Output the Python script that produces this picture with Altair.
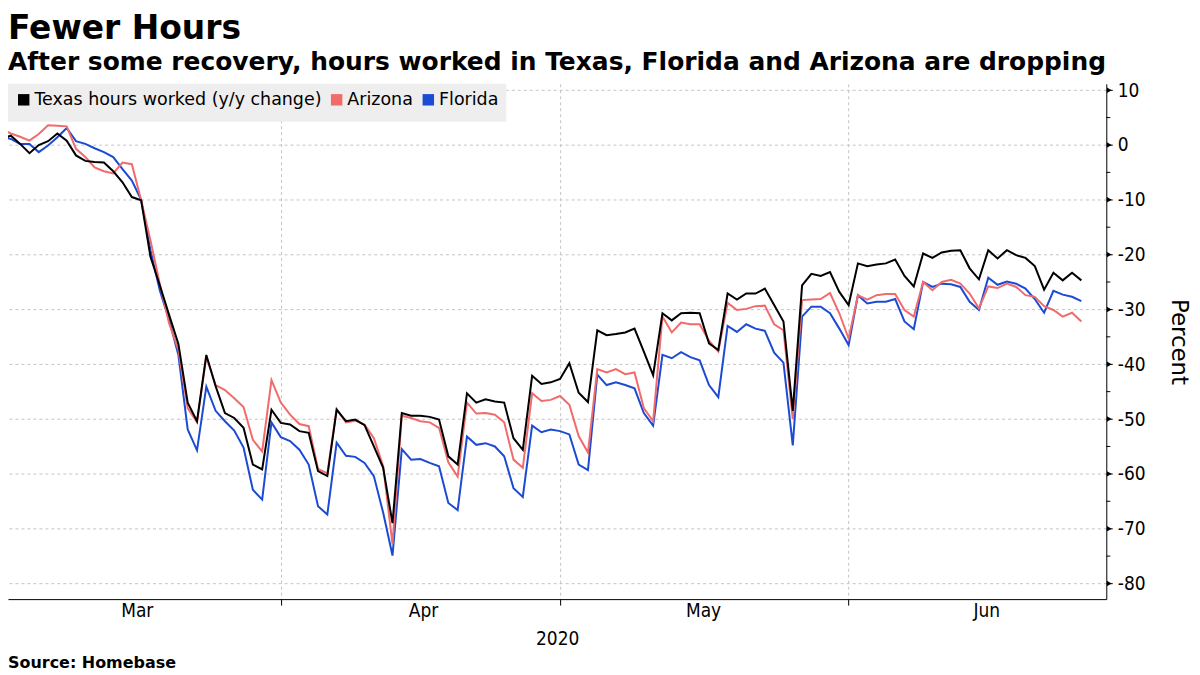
import altair as alt
import pandas as pd

# ---- data (daily, 2020-03-01 .. 2020-06-25) ----
dates = pd.date_range("2020-03-01", "2020-06-25", freq="D").strftime("%Y-%m-%d").tolist()

texas = [
    1.1, 1.7, 0.2, -1.5, 0.0, 0.7, 2.1, 0.8, -1.9, -2.9,
    -3.1, -3.2, -4.8, -6.8, -9.5, -10.1, -20.4, -25.6, -31.0, -36.3,
    -47.0, -50.4, -38.3, -44.0, -48.9, -49.8, -51.6, -58.3, -59.2, -48.3,
    -50.7, -51.0, -52.2, -52.5, -59.5, -60.4, -48.3, -50.4, -50.1, -51.1,
    -55.0, -58.9, -69.0, -48.9, -49.4, -49.4, -49.6, -50.1, -56.8, -58.3,
    -45.3, -47.0, -46.4, -46.8, -47.0, -53.5, -55.6, -42.1, -43.6, -43.3,
    -42.7, -39.8, -45.2, -46.9, -33.8, -34.7, -34.5, -34.2, -33.5, -37.7,
    -42.0, -30.7, -32.0, -30.7, -30.6, -30.7, -36.2, -37.4, -27.1, -28.2,
    -27.1, -27.1, -26.2, -29.2, -32.2, -48.5, -25.6, -23.5, -23.9, -23.2,
    -26.8, -29.2, -21.6, -22.1, -21.8, -21.6, -20.9, -23.9, -25.8, -19.8,
    -20.6, -19.6, -19.3, -19.2, -22.5, -24.5, -19.2, -20.7, -19.2, -20.1,
    -20.6, -22.1, -26.4, -23.3, -24.7, -23.3, -24.7,
]
arizona = [
    2.9, 2.1, 1.5, 0.8, 2.0, 3.6, 3.5, 3.4, -0.7, -2.2,
    -4.1, -4.8, -5.2, -3.2, -3.5, -10.1, -17.4, -25.3, -32.5, -37.4,
    -48.0, -50.6, -38.6, -43.8, -44.7, -46.2, -47.8, -53.8, -55.9, -42.9,
    -47.0, -49.2, -50.9, -51.3, -59.1, -59.9, -48.2, -50.6, -50.3, -51.0,
    -53.5, -58.6, -72.8, -49.4, -49.8, -50.4, -50.6, -51.6, -57.9, -60.5,
    -47.0, -49.0, -48.9, -49.2, -50.6, -57.4, -58.9, -45.3, -46.7, -46.5,
    -45.8, -47.4, -53.1, -56.1, -40.9, -41.5, -40.9, -41.8, -41.5, -48.0,
    -50.4, -31.3, -34.2, -32.4, -32.7, -32.7, -35.7, -37.7, -28.8, -30.1,
    -29.9, -29.4, -29.3, -32.7, -33.8, -50.0, -28.3, -28.2, -28.1, -27.0,
    -30.7, -35.3, -27.4, -28.2, -27.4, -27.2, -27.2, -30.1, -31.3, -25.0,
    -26.5, -25.0, -24.6, -25.3, -27.1, -29.8, -25.8, -26.1, -25.3, -25.9,
    -27.4, -27.7, -29.4, -30.1, -31.3, -30.6, -32.2,
]
florida = [
    1.5, 1.1, 0.2, 0.2, -1.3, -0.1, 1.4, 3.1, 0.7, 0.2,
    -0.6, -1.3, -2.2, -4.4, -6.5, -10.0, -19.2, -26.5, -31.9, -38.3,
    -51.9, -55.7, -44.1, -48.5, -50.4, -52.1, -55.2, -62.9, -64.7, -50.6,
    -53.3, -54.0, -55.6, -58.3, -65.9, -67.4, -54.3, -56.7, -56.9, -58.0,
    -60.4, -67.1, -74.9, -55.5, -57.4, -57.3, -58.0, -58.6, -65.3, -66.6,
    -53.2, -54.7, -54.4, -55.0, -56.8, -62.6, -64.2, -51.2, -52.4, -51.9,
    -52.2, -52.8, -58.3, -59.3, -41.9, -43.8, -43.3, -43.8, -44.4, -48.9,
    -51.2, -38.3, -38.9, -37.8, -38.7, -39.3, -43.8, -46.0, -33.0, -34.1,
    -32.7, -33.5, -33.9, -37.9, -39.7, -54.8, -31.3, -29.5, -29.5, -30.7,
    -33.5, -36.5, -27.4, -28.9, -28.6, -28.6, -28.1, -32.2, -33.6, -25.0,
    -25.9, -25.3, -25.4, -25.9, -28.6, -30.1, -24.2, -25.5, -24.9, -25.3,
    -26.2, -28.1, -30.6, -26.6, -27.3, -27.7, -28.5,
]

series_names = ["Texas hours worked (y/y change)", "Arizona", "Florida"]
series_colors = ["#000000", "#f26b6b", "#1c4bd3"]

month_labels = ["Mar", "Apr", "May", "Jun"]
month_label_dates = ["2020-03-15T14:00:00Z", "2020-04-15T08:00:00Z",
                     "2020-05-15T10:00:00Z", "2020-06-14T20:00:00Z"]
y_major = list(range(10, -85, -10))
y_minor = list(range(5, -85, -10))

rows = []
for name, vals in (("Florida", florida), ("Arizona", arizona), (series_names[0], texas)):
    for d, v in zip(dates, vals):
        rows.append({"date": d, "value": v, "series": name})
df = pd.DataFrame(rows)

W, H = 1102, 517
COND = "DejaVu Sans Condensed, Liberation Sans Narrow, DejaVu Sans"
FONT = "DejaVu Sans"
GRID = "#c4c4c4"

x_scale = alt.Scale(
    type="utc",
    domain=[alt.DateTime(year=2020, month=3, date=1, hours=16, minutes=42, utc=True),
            alt.DateTime(year=2020, month=6, date=27, hours=16, minutes=19, utc=True)],
)
y_scale = alt.Scale(domain=[-82.85, 11.15], nice=False, zero=False)

x_axis = alt.Axis(
    values=[alt.DateTime(year=2020, month=3, date=31, utc=True),
            alt.DateTime(year=2020, month=4, date=30, utc=True),
            alt.DateTime(year=2020, month=5, date=31, utc=True)],
    labels=False, title="2020", titleFont=COND, titleFontSize=19,
    titleFontWeight="normal", titleColor="black", titlePadding=24,
    grid=True, gridDash=[3, 3], gridColor=GRID, gridWidth=1,
    tickSize=6, tickColor="black", domainColor="black", domainWidth=1,
)
y_axis = alt.Axis(
    orient="right", values=y_major,
    labelExpr="'' + datum.value",
    labelFont=COND, labelFontSize=19, labelColor="black", labelPadding=5,
    tickSize=6, tickColor="black", domainColor="black", domainWidth=1,
    grid=True, gridDash=[3, 3], gridColor=GRID, gridWidth=1,
    title="Percent", titleFont=FONT, titleFontSize=23, titleFontWeight="normal",
    titleColor="black", titlePadding=22,
)

lines = alt.Chart(df).mark_line(strokeWidth=2, clip=True).encode(
    x=alt.X("date:T", scale=x_scale, axis=x_axis),
    y=alt.Y("value:Q", scale=y_scale, axis=y_axis),
    color=alt.Color(
        "series:N",
        scale=alt.Scale(domain=series_names, range=series_colors),
        legend=alt.Legend(
            title=None, orient="none", legendX=0, legendY=0, direction="horizontal",
            fillColor="#eeeeee", padding=7, symbolType="square", symbolSize=30,
            symbolStrokeWidth=6, labelFont=FONT, labelFontSize=17.5, labelColor="black",
            labelOffset=2, columnPadding=0, labelLimit=0,
        ),
    ),
)

months = alt.Chart(pd.DataFrame({"month": month_labels, "date": month_label_dates})).mark_text(
    baseline="top", fontSize=19, font=COND, color="black"
).encode(
    x=alt.X("date:T", scale=x_scale),
    y=alt.value(H + 3),
    text="month:N",
)

minor_ticks = alt.Chart(pd.DataFrame({"v": y_minor})).mark_rule(color="black", strokeWidth=1).encode(
    x=alt.value(W),
    x2=alt.value(W + 4),
    y=alt.Y("v:Q", scale=y_scale),
)

major_marks = alt.Chart(pd.DataFrame({"v": y_major})).mark_point(
    shape="triangle-right", filled=True, size=30, color="black", opacity=1
).encode(
    x=alt.value(W + 3),
    y=alt.Y("v:Q", scale=y_scale),
)

source = alt.Chart(pd.DataFrame({"t": ["Source: Homebase"]})).mark_text(
    align="left", baseline="middle", fontSize=16, fontWeight="bold", font=FONT, color="black"
).encode(
    x=alt.value(0),
    y=alt.value(H + 64),
    text="t:N",
)

chart = alt.layer(lines, months, minor_ticks, major_marks, source).properties(
    width=W, height=H,
    padding={"left": 0, "right": 2, "top": 4, "bottom": 0},
    title=alt.TitleParams(
        text="Fewer Hours",
        subtitle="After some recovery, hours worked in Texas, Florida and Arizona are dropping",
        anchor="start", font=FONT, fontSize=33, fontWeight="bold", color="black",
        subtitleFont=FONT, subtitleFontSize=25, subtitleFontWeight="bold",
        subtitleColor="black", subtitlePadding=4, offset=6,
    ),
).configure_view(stroke=None)

chart.save("out.html", embed_options={"renderer": "svg", "actions": False})
